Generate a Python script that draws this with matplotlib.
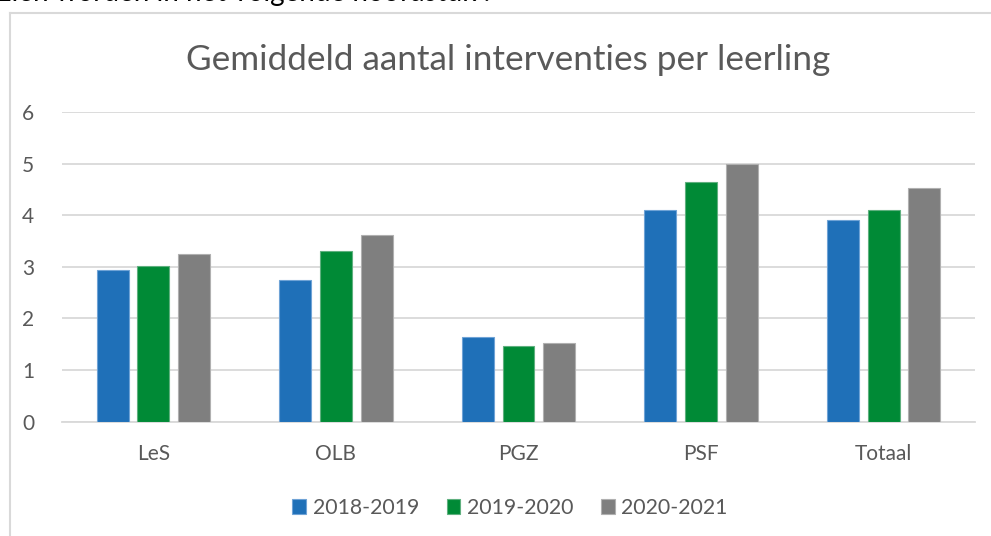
import matplotlib
matplotlib.use("Agg")
import matplotlib.pyplot as plt
import numpy as np
from matplotlib.lines import Line2D

plt.rcParams['font.family'] = ['Lato', 'DejaVu Sans']

categories = ["LeS", "OLB", "PGZ", "PSF", "Totaal"]
series_names = ["2018-2019", "2019-2020", "2020-2021"]
v_2018 = [2.93, 2.75, 1.64, 4.10, 3.90]
v_2019 = [3.01, 3.31, 1.47, 4.64, 4.10]
v_2020 = [3.25, 3.61, 1.52, 5.00, 4.53]
colors = ["#1F70B8", "#008A36", "#7F7F7F"]
edges = ["#6FA3D6", "#5FB07F", "#B0B0B0"]

W, H = 991, 536
fig = plt.figure(figsize=(W/100, H/100), dpi=100)

# chart border (top and left visible)
fig.add_artist(Line2D([10/W, 10/W], [0, 1-13/H], color="#D9D9D9", lw=1.5))
fig.add_artist(Line2D([10/W, 1.0], [1-13/H, 1-13/H], color="#D9D9D9", lw=1.5))

# cut-off document text at top
fig.text(-1/W, 1-1/H, "zien worden in het volgende hoofdstuk .", fontsize=20,
         color="#000000", va="baseline", ha="left")

ax = fig.add_axes([62/W, 114.3/H, (975-62)/W, (421.7-112)/H])
x = np.arange(len(categories))
bw = 0.175
step = 0.223
for i, (vals, c, e, name) in enumerate(zip([v_2018, v_2019, v_2020], colors, edges, series_names)):
    ax.bar(x + (i-1)*step, vals, width=bw, color=c, edgecolor=e, linewidth=0.8,
           label=name, zorder=3)

ax.set_xlim(-0.5, len(categories)-0.5)
ax.set_ylim(0, 6)
ax.set_yticks(range(0, 7))
ax.set_xticks(x)
ax.set_xticklabels(categories)
ax.yaxis.grid(True, color="#D9D9D9", lw=1.3, zorder=0)
for s in ["top", "right", "left"]:
    ax.spines[s].set_visible(False)
ax.spines["bottom"].set_color("#D9D9D9")
ax.spines["bottom"].set_linewidth(1.3)
ax.tick_params(axis="both", length=0, labelsize=15, colors="#595959")
ax.tick_params(axis="y", pad=20)
ax.tick_params(axis="x", pad=16)

fig.text(508/W, 1-60/H, "Gemiddeld aantal interventies per leerling", fontsize=25.3,
         color="#595959", ha="center", va="center")

leg = fig.legend(loc="center", bbox_to_anchor=(510/W, 1-508/H), ncol=3, frameon=False,
                 fontsize=15.3, handlelength=0.65, handleheight=0.65, handletextpad=0.3,
                 columnspacing=1.3)
for t in leg.get_texts():
    t.set_color("#595959")

fig.savefig("out.png", dpi=100)
